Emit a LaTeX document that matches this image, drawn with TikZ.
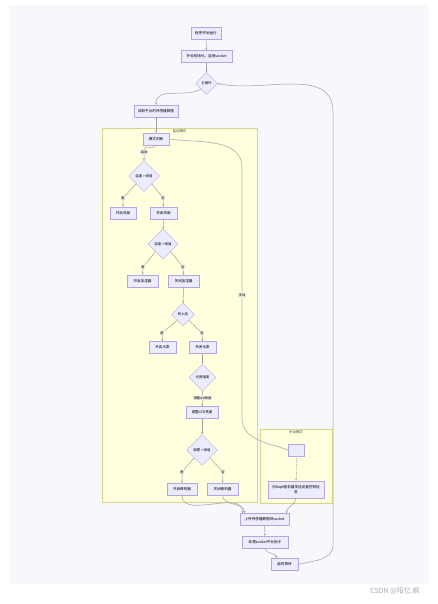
\documentclass[tikz,border=0pt]{standalone}
\usepackage{fontspec}
\newfontfamily\cjk{Noto Sans CJK SC}
\usetikzlibrary{shapes.geometric,arrows.meta,positioning}
\definecolor{nodefill}{HTML}{ECECFF}
\definecolor{nodeline}{HTML}{B7A3EA}
\definecolor{groupfill}{HTML}{FFFFDE}
\definecolor{groupline}{HTML}{D6D68A}
\definecolor{canvas}{HTML}{F7F8FB}
\definecolor{edgeline}{HTML}{A0A0A0}

\begin{document}
\begin{tikzpicture}[x=1pt,y=-1pt,
  box/.style={rectangle, draw=nodeline, fill=nodefill, line width=0.45pt,
              minimum width=#1, minimum height=12pt, inner sep=1pt,
              font=\cjk\fontsize{3.6}{4.4}\selectfont, align=center},
  box/.default=26pt,
  choice/.style={diamond, draw=nodeline, fill=nodefill, line width=0.45pt,
                 minimum width=#1, minimum height=#1, inner sep=0pt,
                 font=\cjk\fontsize{3.4}{4}\selectfont},
  group/.style={draw=groupline, fill=groupfill, line width=0.4pt},
  grouptitle/.style={font=\cjk\fontsize{3.4}{4}\selectfont, text=black!75},
  link/.style={draw=edgeline, line width=0.5pt, -{Stealth[length=2.2pt,width=2pt]}},
  tag/.style={fill=black!9, inner sep=0.5pt, font=\cjk\fontsize{3.2}{3.8}\selectfont},
]
  \useasboundingbox (0,0) rectangle (438,604);
  \fill[canvas] (9,5) rectangle (429,584);

  % subgraphs
  \draw[group] (102,128) rectangle (257,502);
  \node[grouptitle] (autotitle) at (179.5,131.5) {自动模式};
  \draw[group] (260,429) rectangle (332,503);
  \node[grouptitle] (mantitle) at (296,432.5) {手动模式};

  % main line
  \node[box=30pt] (start) at (206,33.5) {程序开始运行};
  \node[box=51pt] (init) at (206.5,56.5) {外设初始化，连接socket};
  \node[choice=22pt] (loop) at (206.5,83.5) {主循环};
  \node[box=44pt] (read) at (156,111) {读取平台的传感器数据};
  \node[box=26pt] (mode) at (156,139) {模式判断};

  % auto mode
  \node[tag] (tauto) at (144,152) {自动};
  \node[choice=31pt] (temp) at (144,176) {温度 > 阈值};
  \node[tag] (tyes1) at (123,198) {是};
  \node[tag] (tno1) at (163,198) {否};
  \node[box=26pt] (fanon) at (123,213) {开启风扇};
  \node[box=27pt] (fanoff) at (163.5,213) {关闭风扇};

  \node[choice=30pt] (hum) at (163,244) {湿度 > 阈值};
  \node[tag] (tyes2) at (143,267) {是};
  \node[tag] (tno2) at (183,267) {否};
  \node[box=31pt] (humon) at (142.5,281) {开启加湿器};
  \node[box=31pt] (humoff) at (183.5,281) {关闭加湿器};

  \node[choice=23pt] (fire) at (183,314.5) {有火焰};
  \node[tag] (tyes3) at (162,333) {是};
  \node[tag] (tno3) at (202,333) {否};
  \node[box=27pt] (pumpon) at (162.5,347.5) {开启水泵};
  \node[box=27pt] (pumpoff) at (202.5,347.5) {关闭水泵};

  \node[choice=27pt] (light) at (202.5,377.5) {光照强度};
  \node[tag] (tdim) at (202.5,398) {调整led亮度};
  \node[box=32pt] (dim) at (202,412.5) {调整LED亮度};

  \node[choice=31pt] (smoke) at (202,450) {烟雾 > 阈值};
  \node[tag] (tyes5) at (182,472) {是};
  \node[tag] (tno5) at (223,472) {否};
  \node[box=30pt] (buzzon) at (182,489) {开启蜂鸣器};
  \node[box=31pt] (buzzoff) at (222.5,489) {关闭蜂鸣器};

  % manual mode
  \node[tag] (tman) at (242,295) {手动};
  \node[box=16pt] (wait0) at (296,450) {-};
  \node[box=56pt, minimum height=17pt] (mqtt) at (296,489.5) {向Mqtt服务器发送设备控制信\\息};

  % tail
  \node[box=49pt] (upload) at (264.5,519.5) {上传传感器数据到socket};
  \node[box=46pt] (cmd) at (265,542) {处理socket平台指令};
  \node[box=27pt] (delay) at (284.5,564.5) {延时等待};

  \coordinate (manA) at (242,168);
  \coordinate (manB) at (242,418);
  \coordinate (backA) at (333,545);
  \coordinate (backB) at (333,112);

  % connectors
  \draw[link] (start) -- (init);
  \draw[link] (init) -- (loop);
  \draw[link] (loop.south west) to[out=-150,in=90] (read.north);
  \draw[link] (read) -- (mode);
  \draw[link] (mode.south) to[out=-110,in=90] (tauto) -- (temp.north);
  \draw[link] (temp.south west) -- (tyes1) -- (fanon.north);
  \draw[link] (temp.south east) -- (tno1) -- (fanoff.north);
  \draw[link] (fanoff) -- (hum);
  \draw[link] (hum.south west) -- (tyes2) -- (humon.north);
  \draw[link] (hum.south east) -- (tno2) -- (humoff.north);
  \draw[link] (humoff) -- (fire);
  \draw[link] (fire.south west) -- (tyes3) -- (pumpon.north);
  \draw[link] (fire.south east) -- (tno3) -- (pumpoff.north);
  \draw[link] (pumpoff) -- (light);
  \draw[link] (light) -- (tdim) -- (dim);
  \draw[link] (dim) -- (smoke);
  \draw[link] (smoke.south west) -- (tyes5) -- (buzzon.north);
  \draw[link] (smoke.south east) -- (tno5) -- (buzzoff.north);
  \draw[link, line width=0.8pt, edgeline!70] (mode.east) to[out=-8,in=90] (manA)
    -- (tman) -- (manB) to[out=-90,in=160] (wait0.west);
  \draw[link, dash pattern=on 1pt off 1pt, edgeline!80] (wait0) -- (mqtt);
  \draw[link] (buzzon.south) to[out=-90,in=90] ([xshift=-22pt]upload.north);
  \draw[link] (buzzoff.south) to[out=-90,in=90] ([xshift=-20pt]upload.north);
  \draw[link] (mqtt.south) to[out=-90,in=90] ([xshift=22pt]upload.north);
  \draw[link] (upload) -- (cmd);
  \draw[link] (cmd.south) to[out=-90,in=90] ([xshift=-8pt]delay.north);
  \draw[link] (delay.east) to[out=15,in=-90] (backA) -- (backB)
    to[out=90,in=-12] (loop.east);

  \node[font=\cjk\fontsize{7}{8}\selectfont, text=black!35] (mark) at (395,591.5) {CSDN @阳忆.枫};
\end{tikzpicture}
\end{document}
